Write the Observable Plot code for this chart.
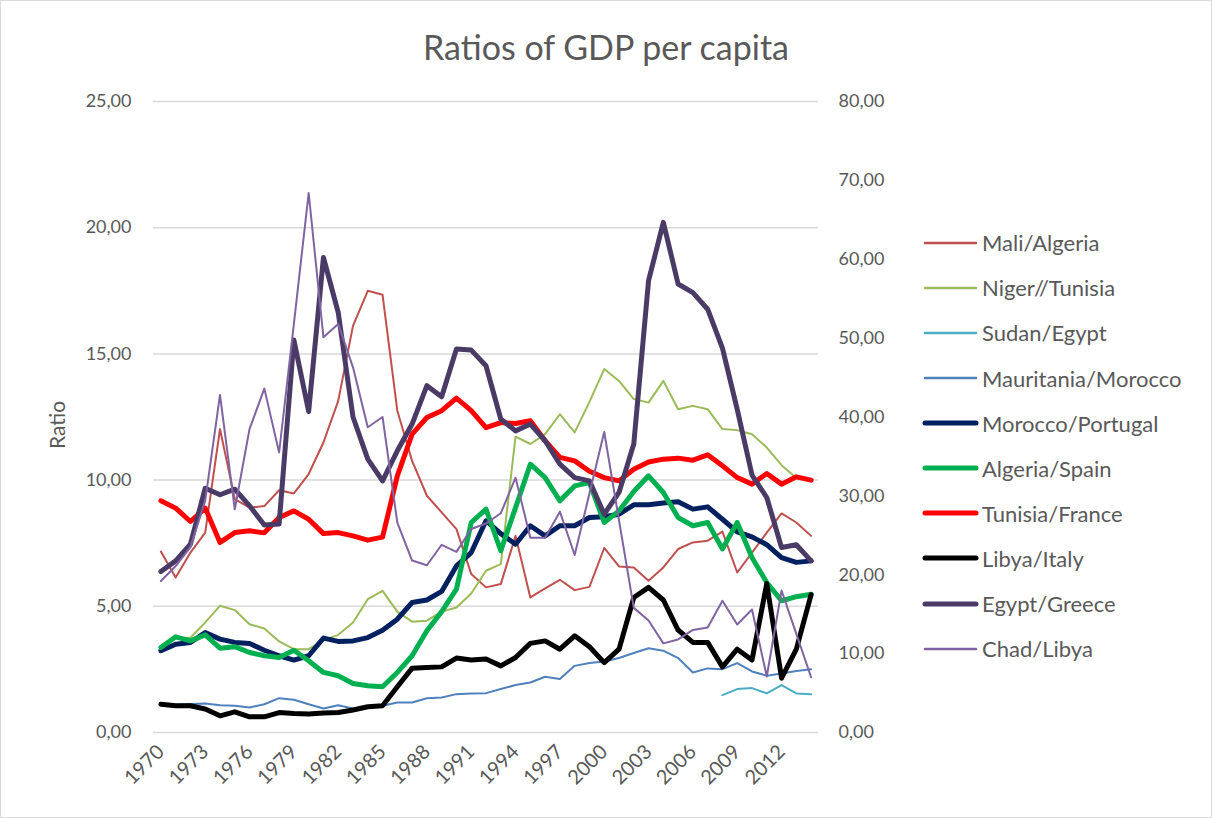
<!DOCTYPE html>
<html>
<head>
<meta charset="utf-8">
<script src="https://cdn.jsdelivr.net/npm/d3@7"></script>
<script src="https://cdn.jsdelivr.net/npm/@observablehq/plot@0.6"></script>
<style>
  html, body { margin: 0; padding: 0; background: #fff; }
  #wrap { position: relative; width: 1212px; height: 818px; overflow: hidden; font-family: Lato, "Open Sans", sans-serif; color: #595959; }
  #frame { position: absolute; left: 0; top: 0; width: 1210px; height: 816px; border: 1px solid #d9d9d9; pointer-events: none; }
  #title { position: absolute; left: 0; top: 26px; width: 1212px; text-align: center; font-size: 34px; line-height: 42px; }
  #ylabel { position: absolute; left: 56px; top: 425px; transform: translate(-50%, -50%) rotate(-90deg); font-size: 21px; white-space: nowrap; }
  #chart { position: absolute; left: 0; top: 0; }
  #legend { position: absolute; left: 0; top: 0; }
  .item { position: absolute; height: 30px; display: flex; align-items: center; font-size: 22px; white-space: nowrap; }
</style>
</head>
<body>
<div id="wrap">
  <div id="chart"></div>
  <div id="title">Ratios of GDP per capita</div>
  <div id="ylabel">Ratio</div>
  <div id="legend"></div>
  <div id="frame"></div>
</div>
<script>
const years = [1970,1971,1972,1973,1974,1975,1976,1977,1978,1979,1980,1981,1982,1983,1984,1985,1986,1987,1988,1989,1990,1991,1992,1993,1994,1995,1996,1997,1998,1999,2000,2001,2002,2003,2004,2005,2006,2007,2008,2009,2010,2011,2012,2013,2014];
const xTickYears = [1970,1973,1976,1979,1982,1985,1988,1991,1994,1997,2000,2003,2006,2009,2012];
const leftTicks = [0,5,10,15,20,25];
const rightTicks = [0,10,20,30,40,50,60,70,80];

const maliAlgeria = [7.17,6.14,7.13,7.92,12.02,9.25,8.91,8.97,9.6,9.47,10.24,11.49,13.14,16.11,17.5,17.34,12.75,10.76,9.38,8.72,8.06,6.28,5.75,5.88,7.79,5.35,5.71,6.05,5.64,5.77,7.31,6.58,6.54,6.01,6.54,7.27,7.53,7.6,7.96,6.34,7.13,7.92,8.68,8.32,7.79];
const nigerTunisia = [3.43,3.74,3.76,4.36,5.02,4.85,4.29,4.12,3.61,3.3,3.3,3.66,3.87,4.36,5.28,5.61,4.79,4.39,4.43,4.79,4.95,5.51,6.41,6.67,11.72,11.43,11.82,12.61,11.89,13.1,14.4,13.93,13.21,13.07,13.93,12.81,12.94,12.81,12.02,11.98,11.82,11.29,10.59,10.08,9.95];
const sudanEgypt = [null,null,null,null,null,null,null,null,null,null,null,null,null,null,null,null,null,null,null,null,null,null,null,null,null,null,null,null,null,null,null,null,null,null,null,null,null,null,1.48,1.72,1.76,1.55,1.88,1.55,1.52];
const mauritaniaMorocco = [1.1,1.1,1.13,1.15,1.08,1.06,0.99,1.12,1.36,1.3,1.12,0.95,1.08,0.95,1.02,1.06,1.19,1.19,1.36,1.39,1.52,1.55,1.56,1.72,1.88,1.98,2.21,2.12,2.64,2.75,2.81,2.95,3.15,3.34,3.24,2.95,2.38,2.54,2.51,2.75,2.42,2.25,2.34,2.44,2.51];
const moroccoPortugal = [3.24,3.5,3.57,3.96,3.7,3.57,3.53,3.26,3.04,2.87,3.04,3.74,3.61,3.63,3.76,4.05,4.49,5.15,5.25,5.59,6.6,7.13,8.39,7.88,7.46,8.19,7.79,8.19,8.19,8.52,8.55,8.65,9.02,9.02,9.09,9.14,8.85,8.94,8.45,7.95,7.75,7.44,6.93,6.74,6.8];
const algeriaSpain = [3.37,3.79,3.63,3.87,3.34,3.4,3.17,3.04,2.97,3.26,2.84,2.38,2.25,1.94,1.85,1.81,2.38,3.04,4.03,4.79,5.68,8.32,8.85,7.2,8.91,10.63,10.1,9.18,9.77,9.9,8.32,8.78,9.55,10.17,9.51,8.52,8.19,8.32,7.27,8.32,6.93,5.94,5.22,5.38,5.48];
const tunisiaFrance = [9.18,8.89,8.36,8.89,7.53,7.92,7.99,7.91,8.52,8.78,8.45,7.88,7.92,7.79,7.62,7.74,10.17,11.82,12.48,12.75,13.25,12.75,12.08,12.28,12.24,12.35,11.56,10.9,10.76,10.35,10.1,9.97,10.43,10.72,10.83,10.87,10.79,11.0,10.57,10.1,9.84,10.26,9.84,10.13,10.0];
const libyaItaly = [1.12,1.06,1.06,0.93,0.66,0.82,0.62,0.62,0.79,0.75,0.73,0.77,0.79,0.89,1.02,1.06,1.81,2.55,2.58,2.6,2.95,2.87,2.91,2.64,2.97,3.53,3.63,3.3,3.83,3.4,2.77,3.3,5.35,5.75,5.25,4.06,3.57,3.57,2.6,3.3,2.87,5.9,2.15,3.3,5.46];
const egyptGreece = [6.38,6.8,7.46,9.68,9.42,9.64,8.98,8.22,8.26,15.55,12.72,18.82,16.64,12.5,10.83,9.97,11.16,12.22,13.74,13.3,15.19,15.15,14.53,12.42,11.95,12.22,11.56,10.63,10.1,9.97,8.65,9.51,11.43,17.9,20.21,17.77,17.43,16.77,15.23,12.8,10.2,9.31,7.33,7.44,6.8];
// secondary (right) axis
const chadLibya = [19.2,21.1,23.5,29.4,42.8,28.3,38.5,43.6,35.5,51.8,68.4,50.1,51.8,46.3,38.7,40.0,26.6,21.8,21.2,23.8,22.9,25.8,26.5,27.8,32.3,24.7,24.7,28.0,22.5,30.3,38.1,26.9,15.8,14.2,11.3,11.8,13.0,13.3,16.7,13.7,15.6,7.1,18.0,12.5,7.0];

const seriesNames = ["Mali/Algeria","Niger//Tunisia","Sudan/Egypt","Mauritania/Morocco","Morocco/Portugal","Algeria/Spain","Tunisia/France","Libya/Italy","Egypt/Greece","Chad/Libya"];
const seriesValues = [maliAlgeria,nigerTunisia,sudanEgypt,mauritaniaMorocco,moroccoPortugal,algeriaSpain,tunisiaFrance,libyaItaly,egyptGreece,chadLibya];
const seriesAxis = ["left","left","left","left","left","left","left","left","left","right"];
const seriesColors = ["#C0504D","#9BBB59","#4BACC6","#4F81BD","#002060","#00B050","#FF0000","#000000","#4A3B66","#8064A2"];
const seriesWidths = [2,2,2,2,5,5,5,5,5,2];

const scaleRatio = 25 / 80;
const fmt = d => d.toFixed(2).replace(".", ",");

const lineMarks = seriesNames.map((name, k) => {
  const data = years.map((year, i) => ({series: name, year, value: seriesValues[k][i]}))
    .filter(d => d.value != null);
  const yAcc = seriesAxis[k] === "right" ? d => d.value * scaleRatio : d => d.value;
  return Plot.line(data, {
    x: "year", y: yAcc,
    stroke: seriesColors[k], strokeWidth: seriesWidths[k],
    strokeLinejoin: "round", strokeLinecap: "round"
  });
});

const chart = Plot.plot({
  width: 900,
  height: 818,
  marginLeft: 153,
  marginRight: 82,
  marginTop: 101,
  marginBottom: 86,
  x: {domain: [1969.5, 2014.5]},
  y: {domain: [0, 25]},
  style: {fontFamily: "Lato, 'Open Sans', sans-serif", fontSize: "18px", color: "#595959", background: "transparent"},
  marks: [
    Plot.ruleY(leftTicks, {stroke: "#d9d9d9", strokeWidth: 1.5}),
    Plot.axisY(leftTicks, {anchor: "left", tickSize: 0, tickPadding: 22, tickFormat: fmt, label: null}),
    Plot.axisY(rightTicks.map(d => d * scaleRatio), {anchor: "right", tickSize: 0, tickPadding: 20, tickFormat: d => fmt(d / scaleRatio), label: null}),
    Plot.axisX(xTickYears, {tickSize: 0, tickRotate: -45, tickPadding: 16, tickFormat: d => String(d), fontSize: 20, label: null}),
    ...lineMarks
  ]
});
document.getElementById("chart").appendChild(chart);

// legend
const legend = document.getElementById("legend");
seriesNames.forEach((name, k) => {
  const item = document.createElement("div");
  item.className = "item";
  item.style.left = "920px";
  item.style.top = (242.7 + k * 45.1 - 15) + "px";
  const sw = seriesWidths[k];
  item.innerHTML = `<svg width="60" height="30" style="flex:none"><line x1="5" x2="56" y1="15" y2="15" stroke="${seriesColors[k]}" stroke-width="${sw === 5 ? 5 : 2.5}" stroke-linecap="round"/></svg><span style="margin-left:2px">${name}</span>`;
  legend.appendChild(item);
});
</script>
</body>
</html>
